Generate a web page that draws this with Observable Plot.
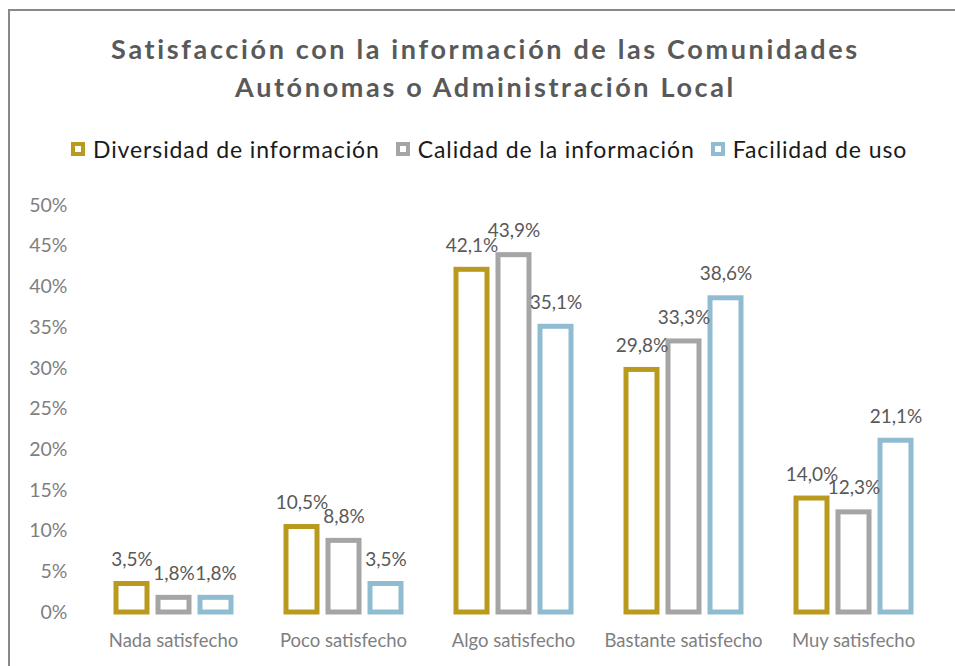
<!DOCTYPE html>
<html>
<head>
<meta charset="utf-8">
<script src="https://cdn.jsdelivr.net/npm/d3@7"></script>
<script src="https://cdn.jsdelivr.net/npm/@observablehq/plot@0.6"></script>
<style>
  html, body { margin: 0; padding: 0; background: #fff; }
  body { width: 955px; height: 666px; position: relative; overflow: hidden; font-family: Lato, "Open Sans", sans-serif; }
  #frame { position: absolute; left: 8px; top: 9px; width: 1000px; height: 700px; border-left: 2px solid #888; border-top: 2px solid #888; box-sizing: border-box; }
  #title { position: absolute; left: 8px; width: 955px; top: 30px; text-align: center; font-weight: bold; font-size: 27px; line-height: 38px; color: #595959; letter-spacing: 2.65px; }
  #legend { position: absolute; top: 135px; left: 71px; font-size: 23px; color: #1a1a1a; display: flex; align-items: center; white-space: nowrap; letter-spacing: 0.9px; }
  .item { display: flex; align-items: center; margin-right: 16px; }
  .sw { width: 14px; height: 14px; box-sizing: border-box; border: 4px solid; background: #fff; margin-right: 8px; }
  #chart { position: absolute; left: 0; top: 190px; }
</style>
</head>
<body>
<div id="frame"></div>
<div id="title">Satisfacción con la información de las Comunidades<br>Autónomas o Administración Local</div>
<div id="legend"></div>
<div id="chart"></div>
<script>
const categories = ["Nada satisfecho", "Poco satisfecho", "Algo satisfecho", "Bastante satisfecho", "Muy satisfecho"];
const series = ["Diversidad de información", "Calidad de la información", "Facilidad de uso"];
const colors = ["#B99A1E", "#A5A5A5", "#8FBCD1"];
const diversidad = [3.5, 10.5, 42.1, 29.8, 14.0];
const calidad = [1.8, 8.8, 43.9, 33.3, 12.3];
const facilidad = [1.8, 3.5, 35.1, 38.6, 21.1];
const yTicks = [0, 5, 10, 15, 20, 25, 30, 35, 40, 45, 50];

const values = [diversidad, calidad, facilidad];
const data = [];
categories.forEach((c, i) => {
  series.forEach((s, j) => {
    data.push({cat: c, serie: s, value: values[j][i]});
  });
});

const fmt = v => v.toFixed(1).replace(".", ",") + "%";

const legend = document.getElementById("legend");
series.forEach((s, j) => {
  const it = document.createElement("div");
  it.className = "item";
  const sw = document.createElement("div");
  sw.className = "sw";
  sw.style.borderColor = colors[j];
  const t = document.createElement("span");
  t.textContent = s;
  it.appendChild(sw);
  it.appendChild(t);
  legend.appendChild(it);
});

const chart = Plot.plot({
  width: 955,
  height: 476,
  marginLeft: 87,
  marginRight: 16,
  marginTop: 15,
  marginBottom: 54,
  style: {fontFamily: "Lato, 'Open Sans', sans-serif", background: "transparent"},
  fx: {domain: categories, paddingInner: 0.318, paddingOuter: 0.159, label: null},
  x: {domain: series, paddingInner: 0.27, paddingOuter: 0, axis: null},
  y: {domain: [0, 50], label: null},
  color: {domain: series, range: colors},
  marks: [
    Plot.axisY({ticks: yTicks, tickSize: 0, tickPadding: 0, dx: -48, tickFormat: d => d + "%", fontSize: 19.5, fill: "#7f7f7f", label: null}),
    Plot.axisFx({anchor: "bottom", tickSize: 0, tickPadding: 21, fontSize: 18.5, fill: "#7f7f7f", label: null}),
    Plot.barY(data, {fx: "cat", x: "serie", y: "value", fill: "white", stroke: "serie", strokeWidth: 5}),
    Plot.text(data, {fx: "cat", x: "serie", y: "value", text: d => fmt(d.value), dy: -24, fontSize: 19, fill: "#595959"})
  ]
});
document.getElementById("chart").appendChild(chart);
</script>
</body>
</html>
